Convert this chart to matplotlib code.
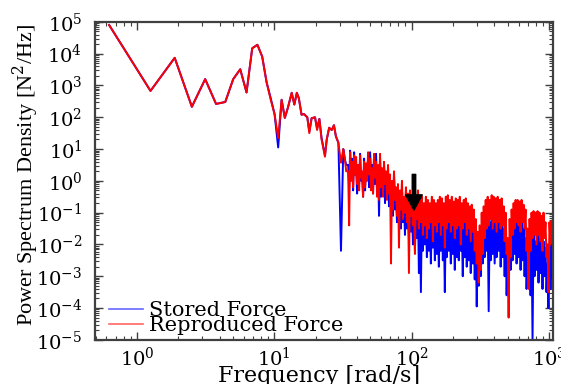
import numpy as np
import matplotlib
matplotlib.use("Agg")
import matplotlib.pyplot as plt
from matplotlib.ticker import LogLocator, NullFormatter

plt.rcParams['font.family'] = 'DejaVu Serif'
plt.rcParams['mathtext.fontset'] = 'dejavuserif'

# frequency bin width of the spectrum [rad/s]
df = 2 * np.pi / 10

# low frequency bins (k = 1..20), log10 of PSD
low_stored = [4.9, 2.83, 3.87, 2.33, 3.2, 2.42, 2.48, 3.2, 3.51, 2.78,
              4.17, 4.28, 3.91, 3.1, 2.6, 2.1, 1.05, 2.55, 1.98, 2.3]
low_repro = [4.9, 2.83, 3.87, 2.33, 3.2, 2.42, 2.48, 3.2, 3.51, 2.78,
             4.17, 4.28, 3.91, 3.1, 2.55, 2.1, 1.35, 2.55, 1.98, 2.3]

# middle band, read point by point
mid_freq = [13.4, 14.0, 14.6, 15.1, 15.8, 16.45, 17.4, 18.0, 18.7, 19.8, 20.5, 21.3,
            22.1, 23.4, 24.1, 25.1, 26.2, 27.2, 28.1, 29.3, 30.6, 31.8, 32.7, 33.4]
mid_stored = [2.77, 2.4, 2.77, 2.6, 2.08, 2.1, 2.0, 1.55, 1.97, 2.0, 1.65, 1.95,
              1.35, 0.8, 1.3, 1.67, 1.6, 1.75, 1.4, 1.2, -2.2, 1.0, 0.67, 0.5]
mid_repro = [2.77, 2.4, 2.77, 2.6, 2.08, 2.1, 2.0, 1.5, 1.97, 2.0, 1.6, 1.95,
             1.3, 0.76, 1.3, 1.67, 1.6, 1.75, 1.4, 1.2, 0.57, 1.0, 0.67, 0.3]

# dense band 34.5 .. 1060 rad/s: local peaks and troughs (log10), in pairs
stored_peaks = [0.5, 0.95, 0.7, 0.9, 0.4, 0.5, 0.85, 0.2, 0.7, 0.4,
                0.7, 0.9, 0.5, 0.8, 0.85, 0.4, 0.7, 0.2, 0.5, 0.1,
                0.3, 0.0, -0.1, 0.2, -0.4, -0.3, -0.5, -0.2, -0.6, -0.4,
                -0.6, -0.5, -0.8, -0.7, -0.9, -0.8, -1.0, -0.9, -1.1, -1.2,
                -1.1, -1.3, -1.2, -1.1, -1.4, -1.2, -1.3, -1.15, -1.4, -1.2,
                -1.1, -1.3, -1.2, -1.4, -1.25, -1.3, -1.1, -1.4, -1.2, -1.3,
                -1.4, -1.3, -1.5, -1.6, -1.8, -2.2, -2.0, -1.8, -1.5, -1.3,
                -1.2, -1.3, -1.1, -1.25, -1.2, -1.3, -1.2, -1.4, -1.5, -1.7,
                -2.2, -1.8, -1.5, -1.3, -1.2, -1.3, -1.4, -1.3, -1.5, -1.8,
                -2.4, -2.0, -1.8, -1.7, -1.9, -1.7, -1.8, -2.0, -1.9, -2.1,
                -2.6, -2.0, -1.9]
stored_troughs = [-0.2, 0.1, -0.3, 0.2, -0.4, -0.1, 0.0, -0.5, -0.3, 0.1,
                  -0.2, 0.3, -0.4, -0.1, -0.3, -1.1, -0.5, -0.3, -0.7, -0.5,
                  -0.8, -0.6, -1.1, -0.9, -1.3, -1.2, -1.5, -1.3, -1.7, -1.5,
                  -1.8, -1.6, -2.0, -2.2, -1.8, -2.9, -3.5, -2.2, -2.0, -2.4,
                  -2.2, -2.6, -2.1, -2.5, -2.3, -2.7, -2.2, -2.5, -3.5, -2.4,
                  -2.2, -2.6, -2.3, -2.8, -2.4, -2.5, -2.2, -3.0, -2.4, -2.7,
                  -2.5, -2.9, -2.6, -3.1, -3.95, -3.3, -3.0, -2.6, -2.4, -2.2,
                  -4.1, -2.5, -2.3, -2.6, -2.4, -2.2, -2.7, -2.4, -3.0, -3.6,
                  -3.2, -2.8, -2.5, -2.3, -2.6, -2.4, -2.8, -2.5, -3.0, -3.4,
                  -3.1, -3.6, -5.0, -3.0, -2.8, -3.2, -2.9, -3.4, -3.0, -3.5,
                  -4.0, -3.4, -3.0]
repro_peaks = [0.3, 0.9, 0.6, 0.8, 0.75, 0.5, 0.8, 0.3, 0.6, 0.55,
               0.9, 0.7, 0.4, 0.85, 0.6, 0.5, 0.85, 0.4, 0.6, 0.3,
               0.5, 0.2, 0.0, 0.3, -0.2, -0.1, -0.3, 0.0, -0.5, -0.2,
               -0.4, -0.3, -0.6, -0.4, -0.5, -0.3, -0.6, -0.5, -0.7, -0.5,
               -0.6, -0.7, -0.5, -0.6, -0.7, -0.6, -0.5, -0.55, -0.7, -0.5,
               -0.45, -0.6, -0.5, -0.65, -0.55, -0.6, -0.5, -0.7, -0.6, -0.55,
               -0.7, -0.8, -0.75, -0.9, -1.2, -1.6, -1.4, -1.0, -0.8, -0.6,
               -0.5, -0.6, -0.45, -0.5, -0.55, -0.5, -0.6, -0.55, -0.8, -1.0,
               -1.8, -1.2, -0.9, -0.7, -0.6, -0.6, -0.65, -0.6, -0.75, -0.9,
               -1.5, -1.2, -1.0, -0.95, -1.0, -0.95, -1.0, -1.1, -1.0, -1.3,
               -2.0, -1.3, -1.25]
repro_troughs = [-1.4, 0.0, -0.2, 0.2, -0.1, -0.3, 0.1, -0.5, -0.2, 0.0,
                 0.2, -0.3, -0.4, 0.1, -0.5, -0.6, -0.2, -0.5, -0.1, -0.6,
                 -0.4, -2.6, -0.9, -0.6, -1.1, -2.1, -0.9, -1.2, -1.0, -1.3,
                 -2.9, -1.1, -1.4, -2.3, -1.2, -1.5, -1.3, -1.7, -1.4, -1.8,
                 -1.5, -1.3, -1.9, -1.4, -1.6, -1.3, -1.7, -1.4, -2.1, -1.5,
                 -1.3, -1.6, -1.4, -1.8, -1.5, -1.4, -2.0, -1.5, -1.3, -1.7,
                 -1.5, -1.9, -1.6, -2.2, -2.6, -3.2, -2.8, -2.3, -1.8, -1.5,
                 -1.4, -1.2, -1.5, -1.3, -1.6, -1.3, -1.5, -1.4, -1.9, -2.3,
                 -4.3, -2.4, -1.7, -1.5, -1.3, -1.4, -1.6, -1.3, -1.5, -2.2,
                 -3.4, -2.2, -1.8, -1.7, -2.0, -1.7, -1.9, -2.2, -1.8, -2.4,
                 -3.5, -2.0, -1.9]


def build(low, mid, peaks, troughs):
    n = min(len(peaks), len(troughs))
    dense = np.column_stack([peaks[:n], troughs[:n]]).ravel()
    f = np.concatenate([df * np.arange(1, len(low) + 1), mid_freq,
                        np.geomspace(34.5, 1060, len(dense))])
    p = 10.0 ** np.concatenate([low, mid, dense])
    return f, p


f_s, p_s = build(low_stored, mid_stored, stored_peaks, stored_troughs)
f_r, p_r = build(low_repro, mid_repro, repro_peaks, repro_troughs)

fig = plt.figure(figsize=(5.61, 3.84), dpi=100)
ax = fig.add_axes([0.169, 0.115, 0.817, 0.828])

ax.loglog(f_s, p_s, color='#0000ff', lw=1.4, label='Stored Force')
ax.loglog(f_r, p_r, color='#ff0000', lw=1.4, label='Reproduced Force')

ax.annotate('', xy=(104, 0.12), xytext=(104, 1.6),
            arrowprops=dict(facecolor='black', edgecolor='black', width=2.5,
                            headwidth=12, headlength=11, shrink=0))

ax.set_xlim(0.494, 1072)
ax.set_ylim(1e-5, 1e5)
ax.yaxis.set_major_locator(LogLocator(base=10, numticks=20))
ax.yaxis.set_minor_locator(LogLocator(base=10, subs=np.arange(2, 10), numticks=20))
ax.yaxis.set_minor_formatter(NullFormatter())
ax.tick_params(which='both', direction='in', top=True, right=True, labelsize=14,
               color='#404040')
ax.tick_params(which='major', length=6, width=1)
ax.tick_params(which='minor', length=3, width=0.8)
ax.tick_params(axis='y', pad=9)
ax.tick_params(axis='x', pad=5)
for s in ax.spines.values():
    s.set_color('#404040')
    s.set_linewidth(1.6)

ax.set_xlabel('Frequency [rad/s]', fontsize=16)
ax.xaxis.set_label_coords(0.49, -0.078)
ax.set_ylabel('Power Spectrum Density [N$^2$/Hz]', fontsize=16,
              family='Liberation Serif')
ax.yaxis.set_label_coords(-0.118, 0.52)

leg = ax.legend(loc='lower left', bbox_to_anchor=(0.0, -0.03), frameon=False,
                fontsize=15, handlelength=1.6, handletextpad=0.3,
                labelspacing=-0.22, borderaxespad=0.3)
for h in leg.get_lines():
    h.set_alpha(0.6)
    h.set_linewidth(1.2)

fig.savefig('out.png', dpi=100)
